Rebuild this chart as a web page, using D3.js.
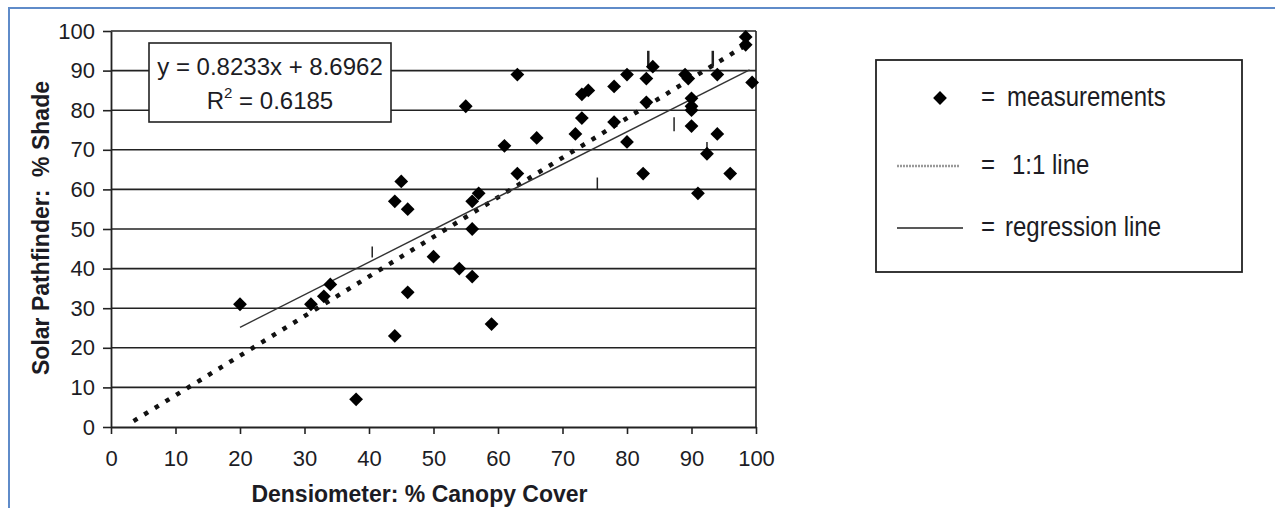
<!DOCTYPE html>
<html>
<head>
<meta charset="utf-8">
<script src="https://cdn.jsdelivr.net/npm/d3@7"></script>
<style>
  body { margin: 0; background: #fff; }
  text { font-family: "Liberation Sans", Arial, sans-serif; fill: #1c1c24; }
</style>
</head>
<body>
<div id="chart"></div>
<script>
var canopyCover = [20, 31, 33, 34, 38, 44, 46, 44, 45, 46, 50, 54, 56, 56, 56, 57, 59, 55, 61, 63,
  63, 66, 72, 73, 73, 74, 78, 80, 83, 84, 78, 80, 83, 82.5, 89, 89.5, 90, 90, 90, 90,
  94, 94, 92.4, 91, 96, 98.4, 98.4, 99.4];
var pctShade = [31, 31, 33, 36, 7, 23, 34, 57, 62, 55, 43, 40, 38, 50, 57, 59, 26, 81, 71, 64,
  89, 73, 74, 78, 84, 85, 86, 89, 88, 91, 77, 72, 82, 64, 89, 88, 83, 81, 80, 76,
  89, 74, 69, 59, 64, 98.5, 96.5, 87];

// regression and 1:1 line
var slope = 0.8233, intercept = 8.6962, rSquared = 0.6185;
var regressionRange = [20, 99];
var oneToOne = [[3.5, 1.5], [98.5, 96.5]];

// little vertical strokes left in the plot: [x, yFrom, yTo]
var strayMarks = [[40.5, 42.8, 45.6], [75.4, 60, 63], [87.3, 74.7, 78.2], [83.3, 91, 95], [93.3, 91, 95], [92.4, 69.6, 72]];

var tickValues = d3.range(0, 101, 10);
var legendLabels = ["measurements", "1:1 line", "regression line"];

var svgWidth = 1275;
var svgHeight = 508;
var margin = { top: 31, right: 519, bottom: 81, left: 111 };
var width = svgWidth - margin.left - margin.right;
var height = svgHeight - margin.top - margin.bottom;

var svg = d3.select("#chart")
  .append("svg")
  .attr("width", svgWidth)
  .attr("height", svgHeight);

// blue frame (only top and left edges are visible)
svg.append("path")
  .attr("d", "M9," + svgHeight + " V8 H" + svgWidth)
  .attr("fill", "none")
  .attr("stroke", "#5f8bc9")
  .attr("stroke-width", 2);

var chartGroup = svg.append("g")
  .attr("transform", `translate(${margin.left}, ${margin.top})`);

var xScale = d3.scaleLinear().domain([0, 100]).range([0, width]);
var yScale = d3.scaleLinear().domain([0, 100]).range([height, 0]);

// gridlines
chartGroup.selectAll(".grid")
  .data(tickValues.slice(1))
  .enter()
  .append("line")
  .attr("x1", 0)
  .attr("x2", width)
  .attr("y1", d => yScale(d))
  .attr("y2", d => yScale(d))
  .attr("stroke", "#222")
  .attr("stroke-width", 1.6);

// right edge of plot
chartGroup.append("line")
  .attr("x1", width).attr("x2", width)
  .attr("y1", 0).attr("y2", height)
  .attr("stroke", "#222")
  .attr("stroke-width", 1.6);

// axes
var leftAxis = d3.axisLeft(yScale).tickValues(tickValues).tickSize(8).tickSizeOuter(0).tickPadding(8);
var bottomAxis = d3.axisBottom(xScale).tickValues(tickValues).tickSize(7).tickSizeOuter(0).tickPadding(16);

var yAxisG = chartGroup.append("g").call(leftAxis);
var xAxisG = chartGroup.append("g").attr("transform", `translate(0, ${height})`).call(bottomAxis);

[yAxisG, xAxisG].forEach(function(g) {
  g.select(".domain").attr("stroke", "#222").attr("stroke-width", 1.8);
  g.selectAll(".tick line").attr("stroke", "#222").attr("stroke-width", 1.6);
  g.selectAll(".tick text").attr("font-size", 22).attr("fill", "#1c1c24")
    .style("font-family", "'Liberation Sans', Arial, sans-serif");
});

// 1:1 line (dotted)
var line = d3.line().x(d => xScale(d[0])).y(d => yScale(d[1]));
chartGroup.append("path")
  .datum(oneToOne)
  .attr("d", line)
  .attr("fill", "none")
  .attr("stroke", "#111")
  .attr("stroke-width", 4.5)
  .attr("stroke-dasharray", "4.5,8");

// regression line
var regPts = regressionRange.map(x => [x, slope * x + intercept]);
chartGroup.append("path")
  .datum(regPts)
  .attr("d", line)
  .attr("fill", "none")
  .attr("stroke", "#333")
  .attr("stroke-width", 1.4);

// stray strokes
chartGroup.selectAll(".stray")
  .data(strayMarks)
  .enter()
  .append("line")
  .attr("x1", d => xScale(d[0])).attr("x2", d => xScale(d[0]))
  .attr("y1", d => yScale(d[1])).attr("y2", d => yScale(d[2]))
  .attr("stroke", "#222")
  .attr("stroke-width", (d, i) => (i == 3 || i == 4) ? 2.5 : 1.5);

// measurements
var diamond = d3.symbol().type(d3.symbolSquare).size(95);
chartGroup.selectAll(".pt")
  .data(canopyCover.map((x, i) => [x, pctShade[i]]))
  .enter()
  .append("path")
  .attr("d", diamond)
  .attr("transform", d => `translate(${xScale(d[0])}, ${yScale(d[1])}) rotate(45)`)
  .attr("fill", "#000");

// equation box
var eqBox = chartGroup.append("g").attr("transform", "translate(38, 12)");
eqBox.append("rect")
  .attr("width", 242).attr("height", 79)
  .attr("fill", "#fff")
  .attr("stroke", "#222")
  .attr("stroke-width", 1.6);
eqBox.append("text")
  .attr("x", 121).attr("y", 32)
  .attr("text-anchor", "middle")
  .attr("font-size", 24)
  .text(`y = ${slope}x + ${intercept}`);
var r2 = eqBox.append("text")
  .attr("x", 121).attr("y", 66)
  .attr("text-anchor", "middle")
  .attr("font-size", 24);
r2.append("tspan").text("R");
r2.append("tspan").attr("font-size", 15).attr("dy", -11).text("2");
r2.append("tspan").attr("dy", 11).text(` = ${rSquared}`);

// axis titles
chartGroup.append("text")
  .attr("transform", "rotate(-90)")
  .attr("x", -height / 2 + 1)
  .attr("y", -margin.left + 49)
  .attr("text-anchor", "middle")
  .attr("font-size", 23)
  .attr("font-weight", "bold")
  .style("white-space", "pre")
  .text("Solar Pathfinder:  % Shade");

chartGroup.append("text")
  .attr("x", width / 2 - 14)
  .attr("y", height + 75)
  .attr("text-anchor", "middle")
  .attr("font-size", 23)
  .attr("font-weight", "bold")
  .text("Densiometer: % Canopy Cover");

// legend
var legend = svg.append("g").attr("transform", "translate(876, 60)");
legend.append("rect")
  .attr("width", 366).attr("height", 212)
  .attr("fill", "#fff")
  .attr("stroke", "#222")
  .attr("stroke-width", 1.8);

var rowY = [38, 106, 168];
var labelX = [131, 136, 129];

legend.append("path")
  .attr("d", diamond)
  .attr("transform", `translate(64, ${rowY[0]}) rotate(45)`)
  .attr("fill", "#000");
legend.append("line")
  .attr("x1", 21).attr("x2", 84)
  .attr("y1", rowY[1]).attr("y2", rowY[1])
  .attr("stroke", "#999")
  .attr("stroke-width", 2.5)
  .attr("stroke-dasharray", "2,1");
legend.append("line")
  .attr("x1", 21).attr("x2", 87)
  .attr("y1", rowY[2]).attr("y2", rowY[2])
  .attr("stroke", "#222")
  .attr("stroke-width", 1.5);

// the legend lettering is tall and narrow, so stretch it a little vertically
legendLabels.forEach(function(lbl, i) {
  legend.append("text")
    .attr("transform", `translate(105, ${rowY[i] + 8}) scale(1, 1.18)`)
    .attr("font-size", 24)
    .text("=");
  legend.append("text")
    .attr("transform", `translate(${labelX[i]}, ${rowY[i] + 8}) scale(1, 1.18)`)
    .attr("font-size", 24)
    .text(lbl);
});
</script>
</body>
</html>
